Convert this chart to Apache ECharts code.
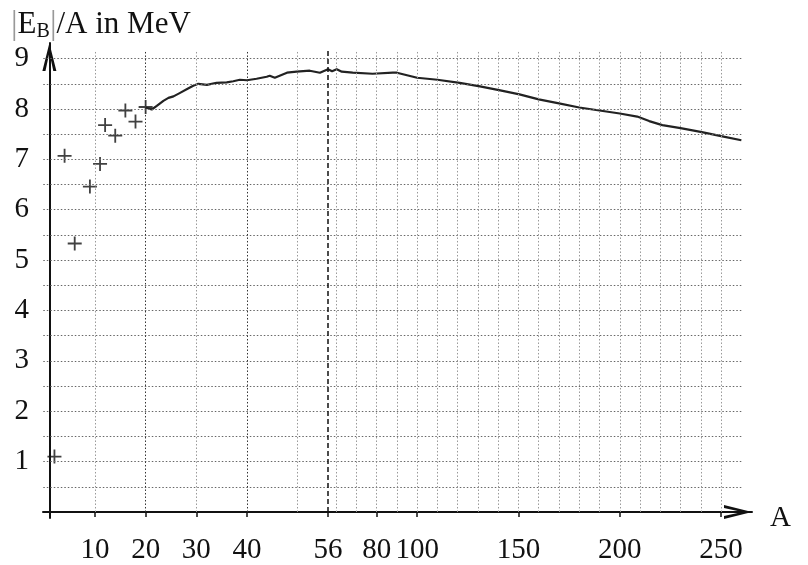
<!DOCTYPE html>
<html>
<head>
<meta charset="utf-8">
<script src="https://cdn.jsdelivr.net/npm/echarts@6/dist/echarts.min.js"></script>
<style>
  html, body { margin: 0; padding: 0; background: #fff; }
  #chart { width: 808px; height: 565px; }
</style>
</head>
<body>
<div id="chart"></div>
<script>
// light nuclei, drawn as crosses
const lightA = [2, 4, 6, 9, 11, 12, 14, 16, 18, 20];
const lightE = [1.10, 7.07, 5.33, 6.46, 6.91, 7.68, 7.47, 7.97, 7.75, 8.04];

// binding energy curve
const curveA = [20, 21.2, 22.2, 23.5, 24.5, 25.5, 26.8, 28.1, 29.4, 30.4,
  32.1, 34, 36, 37.3, 38.6, 40, 41.9, 43.9, 44.5, 45.5,
  47.9, 49.8, 52.4, 54.4, 56, 58, 60.3, 62.8, 68.2, 78,
  88, 90, 100, 110, 121, 131, 141, 150.5, 160, 170,
  180, 190, 200, 208.6, 214.5, 221, 230, 240.5, 250, 260];
const curveE = [8.03, 7.99, 8.06, 8.16, 8.22, 8.25, 8.32, 8.39, 8.46, 8.50,
  8.48, 8.52, 8.53, 8.55, 8.58, 8.57, 8.60, 8.64, 8.66, 8.62,
  8.72, 8.74, 8.76, 8.72, 8.79, 8.75, 8.79, 8.74, 8.72, 8.70,
  8.72, 8.72, 8.62, 8.58, 8.52, 8.45, 8.37, 8.29, 8.19, 8.11,
  8.03, 7.97, 7.91, 7.85, 7.76, 7.68, 7.62, 7.54, 7.46, 7.38];

// axis ticks
const xTicks = [10, 20, 30, 40, 56, 80, 100, 150, 200, 250];
const yTicks = [1, 2, 3, 4, 5, 6, 7, 8, 9];
const gridA = [10, 20, 30, 40, 50, 60, 70, 80, 90, 100, 110, 120, 130, 140, 150,
  160, 170, 180, 190, 200, 210, 220, 230, 240, 250];
const gridE = [0.5, 1, 1.5, 2, 2.5, 3, 3.5, 4, 4.5, 5, 5.5, 6, 6.5, 7, 7.5, 8, 8.5, 9];

// the A axis is stretched up to 56 and squeezed after it
const A_BREAK = 56;
const SQUEEZE = 0.4;
function toU(a) {
  return a <= A_BREAK ? a - 1 : (A_BREAK - 1) + (a - A_BREAK) * SQUEEZE;
}

const FONT = 'Liberation Serif';
const chart = echarts.init(document.getElementById('chart'));

const gridLines = [];
gridE.forEach(function (e) {
  gridLines.push([
    { coord: [-1.2, e], lineStyle: { color: '#666', width: 1, type: [1.5, 2] } },
    { coord: [toU(260.5), e] }
  ]);
});
gridA.forEach(function (a) {
  const dark = a === 20 || a === 40;
  gridLines.push([
    { coord: [toU(a), 0], lineStyle: { color: dark ? '#333' : '#999', width: 1, type: [1.5, 2] } },
    { coord: [toU(a), 9.17] }
  ]);
});
gridLines.push([
  { coord: [toU(56), 0], lineStyle: { color: '#111', width: 1.5, type: [5, 3] } },
  { coord: [toU(56), 9.15] }
]);

const arrow = 'path://M5,0L10,20L7.8,20L5,7L2.2,20L0,20Z';

const option = {
  animation: false,
  title: {
    left: 6,
    top: 3,
    text: '{bar||}E{sub|B}{bar||}/A in MeV',
    textStyle: {
      fontFamily: FONT,
      fontSize: 31,
      fontWeight: 'normal',
      color: '#111',
      lineHeight: 34,
      rich: {
        bar: { fontFamily: FONT, fontSize: 33, color: '#999' },
        sub: { fontFamily: FONT, fontSize: 20, color: '#111', verticalAlign: 'bottom', lineHeight: 22 }
      }
    }
  },
  grid: { left: 43, right: 56, top: 43, bottom: 43 },
  xAxis: {
    type: 'value',
    min: -1.26,
    max: 138.7,
    name: 'A',
    nameLocation: 'end',
    nameGap: 18,
    nameTextStyle: { fontFamily: FONT, fontSize: 29, color: '#111', verticalAlign: 'top', lineHeight: 12 },
    splitLine: { show: false },
    axisLine: {
      onZero: true,
      lineStyle: { color: '#111', width: 2 },
      symbol: ['none', arrow],
      symbolSize: [14, 28],
      symbolOffset: [0, -14]
    },
    axisTick: {
      customValues: xTicks.map(toU),
      length: 5,
      lineStyle: { color: '#111', width: 1.5 }
    },
    axisLabel: {
      customValues: xTicks.map(toU),
      margin: 18,
      fontFamily: FONT,
      fontSize: 29,
      color: '#111',
      formatter: function (v) {
        const hit = xTicks.find(function (t) { return Math.abs(toU(t) - v) < 1e-6; });
        return hit === undefined ? '' : String(hit);
      }
    }
  },
  yAxis: {
    type: 'value',
    min: -0.12,
    max: 9.31,
    splitLine: { show: false },
    axisLine: {
      onZero: true,
      lineStyle: { color: '#111', width: 2 },
      symbol: ['none', arrow],
      symbolSize: [14, 28],
      symbolOffset: [0, -14]
    },
    axisTick: { show: false },
    axisLabel: {
      customValues: yTicks,
      margin: 14,
      fontFamily: FONT,
      fontSize: 29,
      color: '#111'
    }
  },
  series: [
    {
      type: 'scatter',
      clip: false,
      symbol: 'path://M0,4.35H10V5.65H0Z M4.35,0H5.65V10H4.35Z',
      symbolSize: 14,
      itemStyle: { color: '#111' },
      data: lightA.map(function (a, i) { return [toU(a), lightE[i]]; }),
      markLine: {
        silent: true,
        symbol: 'none',
        label: { show: false },
        emphasis: { disabled: true },
        data: gridLines
      },
      z: 3
    },
    {
      type: 'line',
      showSymbol: false,
      clip: false,
      lineStyle: { color: '#222', width: 2.2 },
      data: curveA.map(function (a, i) { return [toU(a), curveE[i]]; }),
      z: 4
    }
  ]
};

chart.setOption(option);
</script>
</body>
</html>
